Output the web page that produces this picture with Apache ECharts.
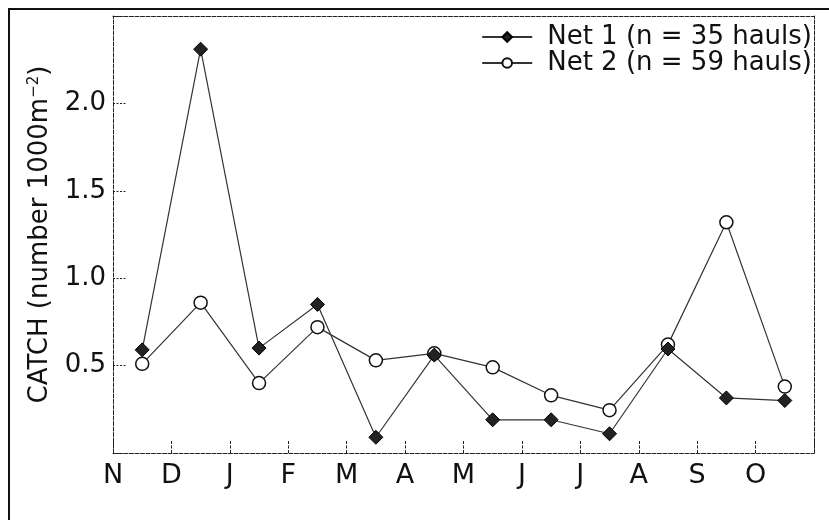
<!DOCTYPE html>
<html>
<head>
<meta charset="utf-8">
<script src="https://cdn.jsdelivr.net/npm/echarts@6/dist/echarts.min.js"></script>
<style>html,body{margin:0;padding:0;background:#fff;}#c{width:829px;height:520px;}</style>
</head>
<body>
<div id="c"></div>
<script>
var months = ['N','D','J','F','M','A','M','J','J','A','S','O'];
var yTickLabels = ['0.5','1.0','1.5','2.0'];
var net1Name = 'Net 1 (n = 35 hauls)';
var net2Name = 'Net 2 (n = 59 hauls)';
var net1 = [0.59, 2.31, 0.60, 0.85, 0.09, 0.56, 0.19, 0.19, 0.11, 0.595, 0.315, 0.30];
var net2 = [0.51, 0.86, 0.40, 0.72, 0.53, 0.57, 0.49, 0.33, 0.245, 0.62, 1.32, 0.38];

var FONT = 'DejaVu Sans';
var DASH = [4, 1.5];
function pts(arr){ return arr.map(function(v,i){ return [i+0.5, v]; }); }

var chart = echarts.init(document.getElementById('c'));
chart.setOption({
  animation:false,
  backgroundColor:'#fff',
  textStyle:{fontFamily:FONT,color:'#111'},
  graphic:[
    {type:'line', shape:{x1:8,y1:9,x2:829,y2:9}, style:{stroke:'#111',lineWidth:2}},
    {type:'line', shape:{x1:9,y1:8,x2:9,y2:520}, style:{stroke:'#111',lineWidth:2}}
  ],
  grid:{left:113, top:16, right:15, bottom:67},
  legend:{
    orient:'vertical', right:12, top:19, itemGap:0, itemWidth:50, itemHeight:12,
    textStyle:{fontFamily:FONT,fontSize:26,color:'#111',lineHeight:23,padding:[0,0,0,10]},
    data:[net1Name, net2Name]
  },
  xAxis:[{
    type:'value', min:0, max:12, interval:1,
    axisLine:{lineStyle:{color:'#222',type:DASH,width:1}},
    axisTick:{inside:true,length:13,lineStyle:{color:'#222',type:[3,1.5]}},
    axisLabel:{fontFamily:FONT,fontSize:27,color:'#111',margin:9,
      formatter:function(v){ return months[Math.round(v)] || ''; }},
    splitLine:{show:false}
  },{
    type:'value', position:'top', min:0, max:12,
    axisLine:{show:true,onZero:false,lineStyle:{color:'#222',type:DASH,width:1}},
    axisTick:{show:false}, axisLabel:{show:false}, splitLine:{show:false}
  }],
  yAxis:[{
    type:'value', min:0, max:2.5, interval:0.5,
    name:'CATCH (number 1000m{sup|−2})',
    nameLocation:'middle', nameGap:60, nameRotate:90,
    nameTextStyle:{fontFamily:FONT,fontSize:26,color:'#111',
      rich:{sup:{fontSize:15,fontFamily:FONT,color:'#111',verticalAlign:'top',padding:[0,0,10,0]}}},
    axisLine:{show:true,onZero:false,lineStyle:{color:'#222',type:DASH,width:1}},
    axisTick:{inside:true,length:14,lineStyle:{color:'#222',type:[2,1.5]}},
    axisLabel:{fontFamily:FONT,fontSize:26,color:'#111',margin:7,
      formatter:function(v){ var s=v.toFixed(1); return yTickLabels.indexOf(s)>=0 ? s : ''; }},
    splitLine:{show:false}
  },{
    type:'value', position:'right', min:0, max:2.5,
    axisLine:{show:true,onZero:false,lineStyle:{color:'#222',type:DASH,width:1}},
    axisTick:{show:false}, axisLabel:{show:false}, splitLine:{show:false}
  }],
  series:[{
    name:net1Name, type:'line', data:pts(net1),
    symbol:'diamond', symbolSize:14,
    itemStyle:{color:'#222',borderColor:'#000',borderWidth:1},
    lineStyle:{color:'#333',width:1.2}, z:3
  },{
    name:net2Name, type:'line', data:pts(net2),
    symbol:'circle', symbolSize:13,
    itemStyle:{color:'#fff',borderColor:'#111',borderWidth:1.5},
    lineStyle:{color:'#333',width:1.2}, z:2
  }]
});
</script>
</body>
</html>
